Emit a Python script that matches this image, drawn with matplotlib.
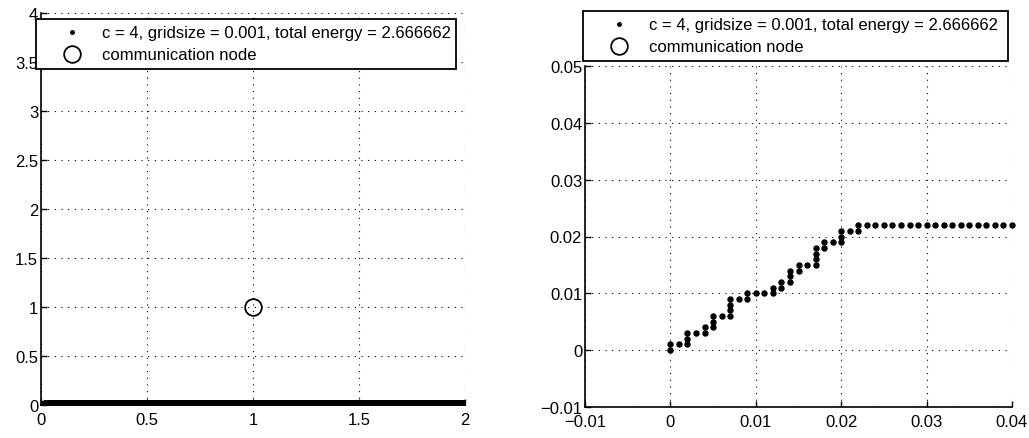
import matplotlib
matplotlib.use("Agg")
import matplotlib.pyplot as plt
import numpy as np
from matplotlib.ticker import FixedLocator, FuncFormatter

plt.rcParams["font.family"] = ["Liberation Sans", "DejaVu Sans"]

# path on the grid, in units of the grid size (x index, y index)
gridsize = 0.001
stair_ix = [0, 0, 1, 2, 2, 2, 3, 4, 4, 5, 5, 5, 6, 7, 7, 7, 7, 8, 9, 9,
            10, 11, 12, 12, 13, 13, 14, 14, 14, 15, 15, 16, 17, 17, 17, 17,
            18, 18, 19, 20, 20, 20, 21, 22, 22]
stair_iy = [0, 1, 1, 1, 2, 3, 3, 3, 4, 4, 5, 6, 6, 6, 7, 8, 9, 9, 9, 10,
            10, 10, 10, 11, 11, 12, 12, 13, 14, 14, 15, 15, 15, 16, 17, 18,
            18, 19, 19, 19, 20, 21, 21, 21, 22]
# flat part of the path: y index 22 from x index 23 up to x index 2000
tail_start, tail_end, tail_iy = 23, 2000, 22

node_x, node_y = [1.0], [1.0]

legend_path = "c = 4, gridsize = 0.001, total energy = 2.666662"
legend_node = "communication node"

left_xticks = [0, 0.5, 1, 1.5, 2]
left_yticks = [0, 0.5, 1, 1.5, 2, 2.5, 3, 3.5, 4]
right_xticks = [-0.01, 0, 0.01, 0.02, 0.03, 0.04]
right_yticks = [-0.01, 0, 0.01, 0.02, 0.03, 0.04, 0.05]

tail_ix = np.arange(tail_start, tail_end + 1)
path_x = np.concatenate([stair_ix, tail_ix]) * gridsize
path_y = np.concatenate([stair_iy, np.full(tail_ix.size, tail_iy)]) * gridsize

FS = 12


def fmt(v, _pos=None):
    s = f"{round(v, 6):g}"
    return s.replace("-", "\u2212")


W, H = 1029, 439
fig = plt.figure(figsize=(W / 100, H / 100), dpi=100)


def px_axes(x0, x1, y0, y1):
    return fig.add_axes([x0 / W, 1 - y1 / H, (x1 - x0) / W, (y1 - y0) / H])


ax1 = px_axes(41, 465, 14, 406)
ax2 = px_axes(585, 1012, 67, 408)


def style(ax, xticks, yticks):
    ax.set_xlim(xticks[0], xticks[-1])
    ax.set_ylim(yticks[0], yticks[-1])
    ax.xaxis.set_major_locator(FixedLocator(xticks))
    ax.yaxis.set_major_locator(FixedLocator(yticks))
    ax.xaxis.set_major_formatter(FuncFormatter(fmt))
    ax.yaxis.set_major_formatter(FuncFormatter(fmt))
    ax.grid(True, color="black", linestyle=(0, (1, 5)), linewidth=0.8)
    ax.set_axisbelow(True)
    for side in ("top", "right"):
        ax.spines[side].set_visible(False)
    for side in ("left", "bottom"):
        ax.spines[side].set_linewidth(1.2)
        ax.spines[side].set_color("black")
    ax.tick_params(direction="in", length=4, width=1, labelsize=FS,
                   colors="black")
    ax.tick_params(axis="y", pad=2)
    ax.tick_params(axis="x", pad=5)


def add_legend(ax, x0, x1, top):
    h1, = ax.plot([], [], linestyle="none", marker="o", ms=2.5, color="black")
    h2, = ax.plot([], [], linestyle="none", marker="o", ms=12, mfc="none",
                  mec="black", mew=1.3)
    leg = ax.legend([h1, h2], [legend_path, legend_node],
                    loc="upper left",
                    bbox_to_anchor=(x0 / W, 1 - top / H, (x1 - x0) / W, 0.0),
                    bbox_transform=fig.transFigure, mode="expand",
                    borderaxespad=0, fancybox=False, framealpha=1,
                    edgecolor="black", fontsize=FS, handlelength=3.6,
                    handletextpad=0.0, labelspacing=0.42, borderpad=0.38)
    leg.get_frame().set_linewidth(1.3)


# left panel: whole path plus node
ax1.plot(path_x, path_y, linestyle="none", marker="o", ms=3.5, color="black")
ax1.plot(node_x, node_y, linestyle="none", marker="o", ms=12, mfc="none",
         mec="black", mew=1.3)
style(ax1, left_xticks, left_yticks)
add_legend(ax1, 36, 456, 20)

# right panel: start of the path, only the part inside the x range
inside = path_x <= right_xticks[-1] + 1e-9
ax2.plot(path_x[inside], path_y[inside], linestyle="none", marker="o",
         ms=3.6, color="black", clip_on=False)
style(ax2, right_xticks, right_yticks)
add_legend(ax2, 583, 1008, 12)

fig.savefig("out.png", dpi=100)
